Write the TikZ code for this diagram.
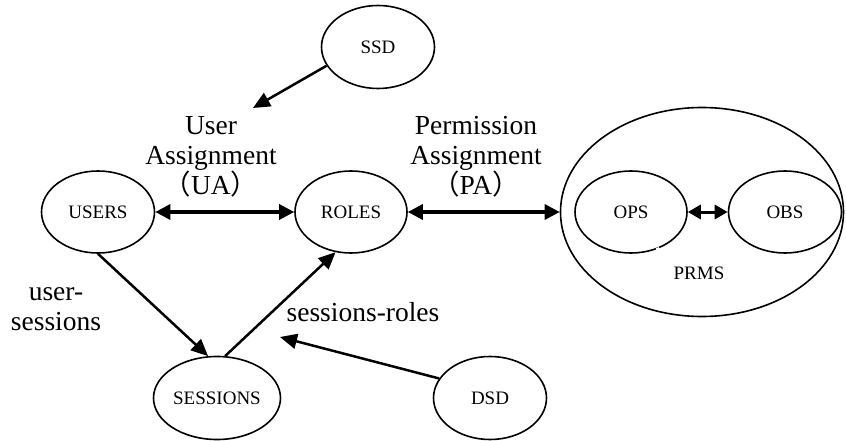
\documentclass[tikz,border=0pt]{standalone}
\usepackage{fontspec}
\setmainfont{Liberation Serif}
\newfontfamily\cjk{Noto Sans CJK SC}
\usetikzlibrary{shapes.geometric,arrows.meta}
\begin{document}
\begin{tikzpicture}[x={(1pt,0)},y={(0,-1pt)},
  ent/.style={ellipse,draw,line width=1.6pt,inner sep=0pt,font=\fontsize{19}{21}\selectfont},
  lbl/.style={align=center,font=\fontsize{27.5}{30}\selectfont,inner sep=0pt},
  dbl/.style={line width=3.2pt,{Triangle[length=15pt,width=15pt]}-{Triangle[length=15pt,width=15pt]}},
  sgl/.style={line width=2.5pt,-{Triangle[length=17pt,width=15pt]}}]
\useasboundingbox (0,0) rectangle (846,441);
% entities
\node[ent,minimum width=113pt,minimum height=83pt] (ssd) at (378,47) {SSD};
\node[ent,minimum width=113pt,minimum height=82pt] (users) at (98,212) {USERS};
\node[ent,minimum width=112pt,minimum height=82pt] (roles) at (351,212) {ROLES};
\node[ent,minimum width=127pt,minimum height=83pt] (sessions) at (217,398) {SESSIONS};
\node[ent,minimum width=113pt,minimum height=83pt] (dsd) at (490,398) {DSD};
\node[ent,minimum width=283pt,minimum height=209pt,font=\fontsize{19}{21}\selectfont] (prms) at (702,212) {};
\node[ent,minimum width=112pt,minimum height=82pt] (ops) at (631,212) {OPS};
\node[ent,minimum width=113pt,minimum height=82pt] (obs) at (785,212) {OBS};
\node[font=\fontsize{19}{21}\selectfont] (prmslbl) at (699,273) {PRMS};
% labels
\node[lbl] (ua) at (211,157) {User\\Assignment\\{\cjk （}UA{\cjk ）}};
\node[lbl] (pa) at (476,157) {Permission\\Assignment\\{\cjk （}PA{\cjk ）}};
\node[lbl] (us) at (56,309) {user-\\sessions};
\node[lbl] (sr) at (363,312) {sessions-roles};
% free ends
\coordinate (ssdtip) at (253,108);
\coordinate (dsdtip) at (280,337);
% connectors
\draw[dbl] (users.east) -- (roles.west);
\draw[dbl] (roles.east) -- (prms.west);
\draw[line width=3pt,{Triangle[length=13pt,width=14pt]}-{Triangle[length=13pt,width=14pt]}] (ops.east) -- (obs.west);
\draw[sgl] (ssd.200) -- (ssdtip);
\draw[sgl] (dsd.159) -- (dsdtip);
\draw[sgl] (users.south) -- (sessions.102);
\draw[sgl] (sessions.79) -- (roles.249);
% small break in OPS outline
\draw[white,line width=2.5pt] (ops.-52) -- (ops.-56);
\end{tikzpicture}
\end{document}
